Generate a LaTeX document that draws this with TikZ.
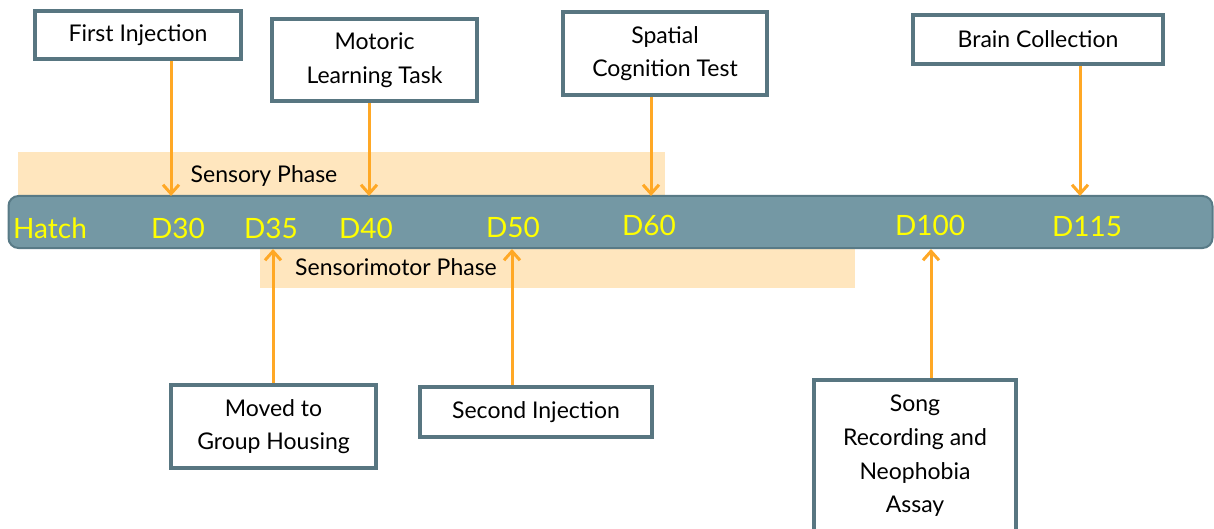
\documentclass[tikz,border=0pt]{standalone}
\usepackage{fontspec}
\setmainfont{Lato}
\usepackage{tikz}
\usetikzlibrary{arrows.meta}

\definecolor{barfill}{HTML}{7498A4}
\definecolor{barline}{HTML}{587A86}
\definecolor{boxline}{HTML}{587681}
\definecolor{arrorange}{HTML}{FFA825}
\definecolor{phaseband}{HTML}{FFE6BE}
\definecolor{daytext}{HTML}{FFFF00}

\begin{document}
\begin{tikzpicture}
    [x=0.5pt,y=-0.5pt,
     event/.style={draw=boxline,line width=2pt,fill=white,align=center,
                   font=\fontsize{11.5}{16.8}\selectfont,inner sep=0pt},
     day/.style={text=daytext,font=\fontsize{14}{16}\selectfont,inner sep=0pt},
     phase/.style={font=\fontsize{11.5}{14}\selectfont,inner sep=0pt},
     arr/.style={draw=arrorange,line width=1.5pt,
                 -{Straight Barb[length=4.5pt,width=8pt,line width=1.5pt]}}]
    \useasboundingbox (0,0) rectangle (1214,529);

    % phase bands
    \fill[phaseband] (18,152) rectangle (665,196);
    \fill[phaseband] (260,248) rectangle (855,288);

    % timeline bar
    \node[draw=barline,fill=barfill,line width=1pt,rounded corners=5pt,
          minimum width=602pt,minimum height=26pt,inner sep=0pt] (bar) at (610.5,222) {};

    \node[phase] (sp) at (264,176) {Sensory Phase};
    \node[phase] (smp) at (396,267) {Sensorimotor Phase};

    % days
    \node[day] (hatch) at (50,228) {Hatch};
    \node[day] (d30) at (178,228) {D30};
    \node[day] (d35) at (271,228) {D35};
    \node[day] (d40) at (366,228) {D40};
    \node[day] (d50) at (513,227) {D50};
    \node[day] (d60) at (649,225) {D60};
    \node[day] (d100) at (930,225) {D100};
    \node[day] (d115) at (1087,227) {D115};

    \coordinate (t30) at (171,196);
    \coordinate (t40) at (369,196);
    \coordinate (t60) at (651,196);
    \coordinate (t115) at (1080,196);
    \coordinate (t35) at (273,249);
    \coordinate (t50) at (512,249);
    \coordinate (t100) at (931,249);

    % events above
    \node[event,minimum width=103pt,minimum height=24pt] (inj1) at (138,35) {First Injection};
    \node[event,minimum width=102.5pt,minimum height=41pt] (motor) at (374.5,60) {Motoric\\Learning Task};
    \node[event,minimum width=102pt,minimum height=41.5pt] (spatial) at (665,53.5) {Spatial\\Cognition Test};
    \node[event,minimum width=125pt,minimum height=24.5pt] (brain) at (1038,39.5) {Brain Collection};

    % events below
    \node[event,minimum width=102.5pt,minimum height=41.5pt] (group) at (273.5,426.5) {Moved to\\Group Housing};
    \node[event,minimum width=116pt,minimum height=25pt] (inj2) at (536,412) {Second Injection};
    \node[event,minimum width=101pt,minimum height=76pt] (song) at (915,456) {Song\\Recording and\\Neophobia\\Assay};

    \draw[arr] (inj1.south -| t30) -- (t30);
    \draw[arr] (motor.south -| t40) -- (t40);
    \draw[arr] (spatial.south -| t60) -- (t60);
    \draw[arr] (brain.south -| t115) -- (t115);
    \draw[arr] (group.north -| t35) -- (t35);
    \draw[arr] (inj2.north -| t50) -- (t50);
    \draw[arr] (song.north -| t100) -- (t100);

\end{tikzpicture}
\end{document}
